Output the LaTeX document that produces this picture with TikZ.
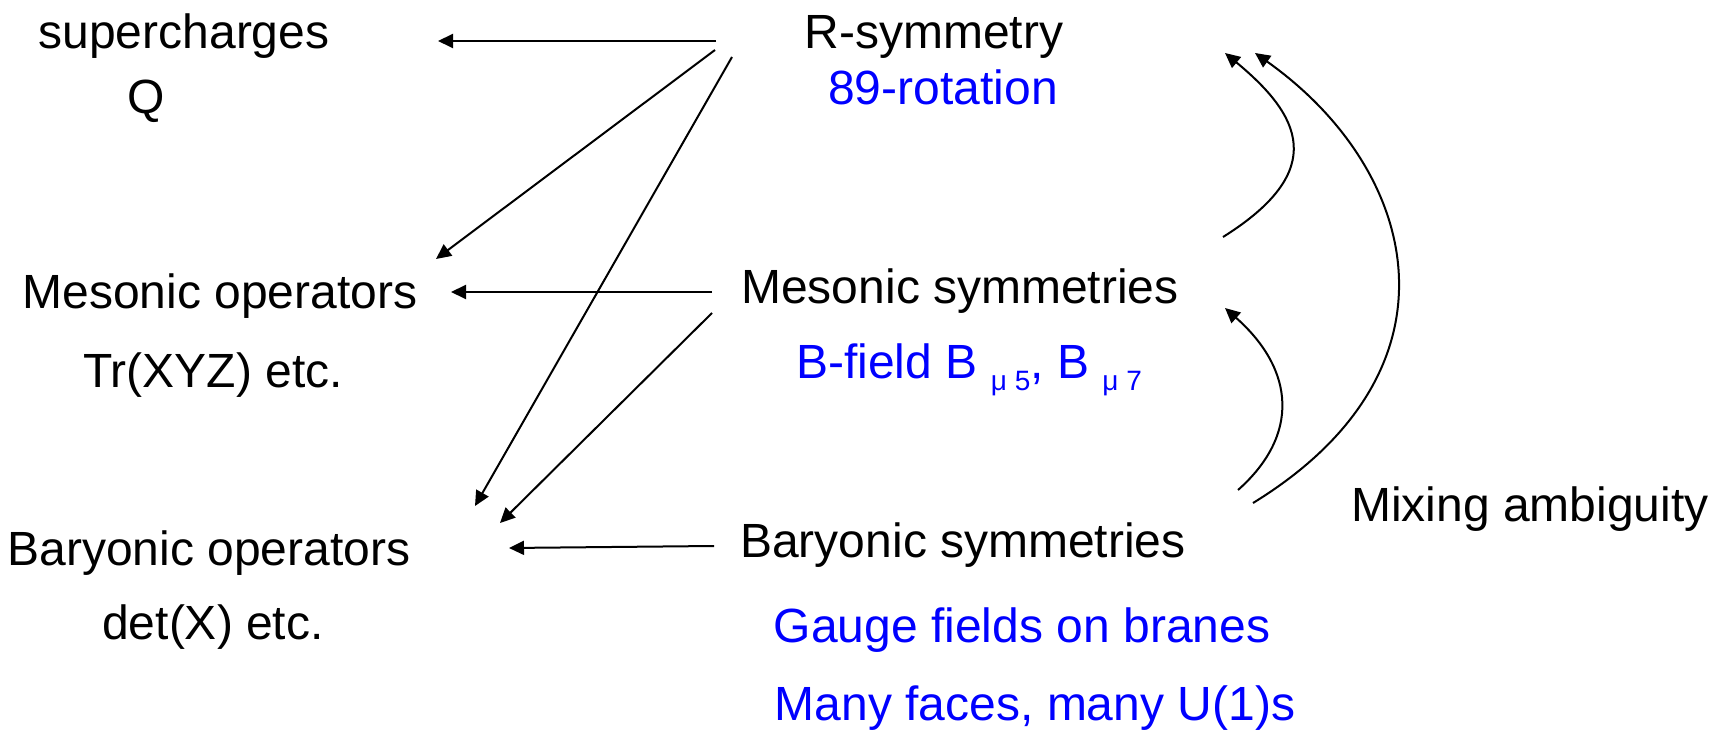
\documentclass[tikz,border=0pt]{standalone}
\usepackage{fontspec}
\setmainfont{Liberation Sans}
\usetikzlibrary{arrows.meta}
\newcommand{\subsc}[1]{\raisebox{-6pt}{\fontsize{14}{14}\selectfont #1}}
\begin{document}
\begin{tikzpicture}[x=0.5pt,y=-0.5pt,
  lbl/.style={anchor=base,inner sep=0pt,font=\fontsize{24}{28}\selectfont},
  blu/.style={lbl,text=blue},
  arr/.style={-{Triangle[length=7.5pt,width=7pt]},line width=1pt}]
\useasboundingbox (0,0) rectangle (1712,731);

% left column
\node[lbl] (sc) at (184,49) {supercharges};
\node[lbl] (q) at (146,114) {Q};
\node[lbl] (mo) at (220,309) {Mesonic operators};
\node[lbl] (tr) at (213,388) {Tr(XYZ) etc.};
\node[lbl] (bo) at (209,566) {Baryonic operators};
\node[lbl] (det) at (213,639) {det(X) etc.};

% middle column
\node[lbl] (rs) at (934,49) {R-symmetry};
\node[blu] (rot) at (943,105) {89-rotation};
\node[lbl] (ms) at (960,304) {Mesonic symmetries};
\node[blu] (bf) at (969,379) {B-field B \subsc{μ 5}, B \subsc{μ 7}};
\node[lbl] (bs) at (963,558) {Baryonic symmetries};
\node[blu] (gf) at (1022,642) {Gauge fields on branes};
\node[blu] (mf) at (1035,720) {Many faces, many U(1)s};

% right
\node[lbl] (mix) at (1530,522) {Mixing ambiguity};

% arrow end points
\coordinate (r1) at (716,41);
\coordinate (r2) at (715,50);
\coordinate (r3) at (732,57);
\coordinate (m1) at (712,292);
\coordinate (m2) at (712,313);
\coordinate (b1) at (714,546);
\coordinate (t1) at (438,41);
\coordinate (t2) at (436,259);
\coordinate (t3) at (475,506);
\coordinate (t4) at (451,292);
\coordinate (t5) at (500,523);
\coordinate (t6) at (509,548);

\draw[arr] (r1) -- (t1);
\draw[arr] (r2) -- (t2);
\draw[arr] (r3) -- (t3);
\draw[arr] (m1) -- (t4);
\draw[arr] (m2) -- (t5);
\draw[arr] (b1) -- (t6);

% curved arrows
\coordinate (ca0) at (1223,237);
\coordinate (ca1) at (1225,53);
\coordinate (cb0) at (1238,490);
\coordinate (cb1) at (1225,308);
\coordinate (cc0) at (1253,503);
\coordinate (cc1) at (1255,53);

\draw[arr] (ca0) .. controls (1330,170) and (1300,115) .. (ca1);
\draw[arr] (cb0) .. controls (1300,435) and (1295,370) .. (cb1);
\draw[arr] (cc0) .. controls (1470,370) and (1420,170) .. (cc1);
\end{tikzpicture}
\end{document}
